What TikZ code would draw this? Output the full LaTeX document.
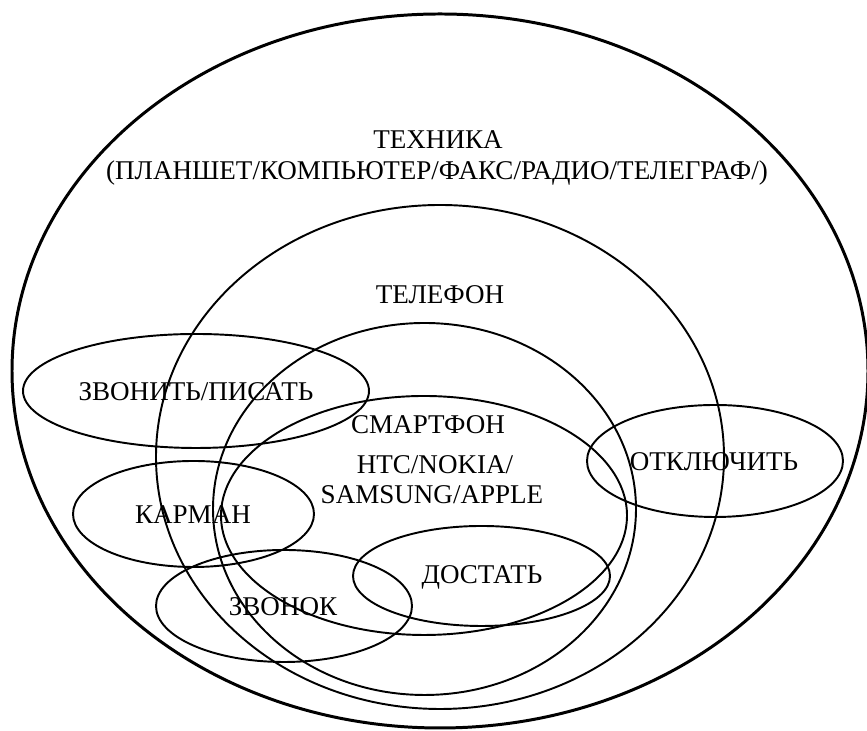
\documentclass[tikz,border=0pt]{standalone}
\usepackage{fontspec}
\setmainfont{Liberation Serif}
\begin{document}
\begin{tikzpicture}[
    % --- Styles ---
    % Thick line for the outermost set
    outer line/.style={draw=black, line width=1.7pt},
    % Normal line for all the other sets
    set line/.style={draw=black, line width=1.1pt},
    set label/.style={font=\fontsize{15.4}{18}\selectfont, inner sep=0pt, anchor=center}
]

%================CONFIGURATION================
% \pw, \ph: Page size (cm)
\def\pw{17.34}
\def\ph{14.62}
%=============================================

\useasboundingbox (0,0) rectangle (\pw,\ph);

% --- 1. Nested sets ---
\draw[outer line] (8.80,7.20) ellipse [x radius=8.56, y radius=7.14];
\draw[set line] (8.80,5.48) ellipse [x radius=5.68, y radius=5.04];
\draw[set line] (8.49,4.44) ellipse [x radius=4.23, y radius=3.72];
\draw[set line] (8.48,4.31) ellipse [x radius=4.06, y radius=2.39];

% --- 2. Small sets (center x / center y / radii) ---
\foreach \cx/\cy/\rx/\ry in {3.92/6.80/3.46/1.14,  % call / write
                             3.87/4.34/2.41/1.06,  % pocket
                             5.68/2.50/2.56/1.12,  % ring
                             9.63/3.10/2.57/1.00,  % take out
                             14.30/5.40/2.56/1.12} % switch off
{
    \draw[set line] (\cx,\cy) ellipse [x radius=\rx, y radius=\ry];
}

% --- 3. Labels ---
\node[set label] (tech) at (8.76,11.82) {ТЕХНИКА};
\node[set label] (techList) at (8.74,11.16) {(ПЛАНШЕТ/КОМПЬЮТЕР/ФАКС/РАДИО/ТЕЛЕГРАФ/)};
\node[set label] (phone) at (8.80,8.72) {ТЕЛЕФОН};
\node[set label] (smart) at (8.56,6.12) {СМАРТФОН};
\node[set label] (brandsA) at (8.70,5.32) {HTC/NOKIA/};
\node[set label] (brandsB) at (8.64,4.72) {SAMSUNG/APPLE};
\node[set label] (call) at (3.92,6.78) {ЗВОНИТЬ/ПИСАТЬ};
\node[set label] (pocket) at (3.86,4.32) {КАРМАН};
\node[set label] (ring) at (5.66,2.48) {ЗВОНОК};
\node[set label] (takeOut) at (9.64,3.08) {ДОСТАТЬ};
\node[set label] (switchOff) at (14.28,5.38) {ОТКЛЮЧИТЬ};

\end{tikzpicture}
\end{document}
